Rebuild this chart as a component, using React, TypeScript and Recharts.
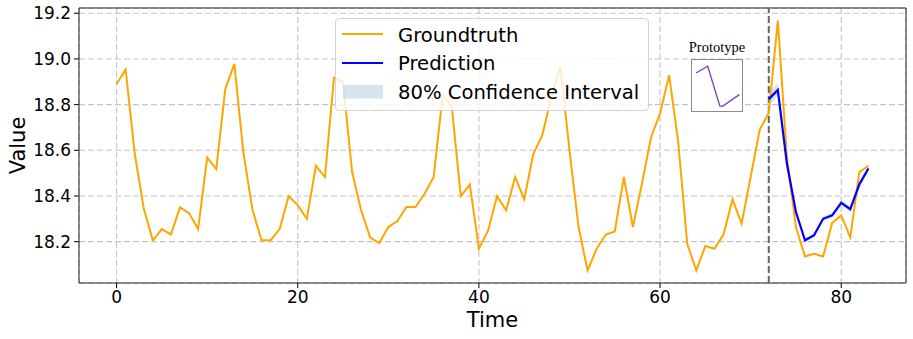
import React from 'react';
import {
  ComposedChart,
  LineChart,
  Line,
  Area,
  XAxis,
  YAxis,
  CartesianGrid,
  ReferenceLine,
  ReferenceArea,
} from 'recharts';

// ---- data ----
const groundtruth: number[] = [
  18.89, 18.954, 18.586, 18.345, 18.206, 18.255, 18.231, 18.35, 18.325, 18.255,
  18.568, 18.518, 18.868, 18.978, 18.589, 18.34, 18.206, 18.206, 18.255, 18.399,
  18.36, 18.3, 18.532, 18.483, 18.918, 18.9, 18.505, 18.337, 18.218, 18.194,
  18.264, 18.29, 18.352, 18.352, 18.41, 18.483, 18.842, 18.793, 18.399, 18.45,
  18.169, 18.247, 18.399, 18.337, 18.483, 18.385, 18.583, 18.666, 18.834, 18.966,
  18.6, 18.264, 18.074, 18.169, 18.231, 18.245, 18.483, 18.264, 18.454, 18.656,
  18.761, 18.929, 18.637, 18.191, 18.074, 18.181, 18.169, 18.231, 18.385, 18.279,
  18.483, 18.69, 18.764, 19.168, 18.571, 18.264, 18.135, 18.147, 18.135, 18.282,
  18.315, 18.218, 18.505, 18.532,
];

const predStart = 72;
const prediction: number[] = [
  18.824, 18.864, 18.542, 18.33, 18.206, 18.228, 18.3, 18.315, 18.37, 18.342, 18.451, 18.52,
];
const ciLower: number[] = [
  18.795, 18.838, 18.528, 18.32, 18.197, 18.219, 18.29, 18.305, 18.358, 18.331, 18.44, 18.51,
];
const ciUpper: number[] = [
  18.855, 18.892, 18.556, 18.341, 18.215, 18.237, 18.31, 18.325, 18.382, 18.353, 18.462, 18.531,
];

const xTicks: number[] = [0, 20, 40, 60, 80];
const yTicks: number[] = [18.2, 18.4, 18.6, 18.8, 19.0, 19.2];

// prototype inset shape
const protoX: number[] = [0, 2.7, 5.5, 6.1, 10];
const protoY: number[] = [0.39, 0.457, 0.06, 0.057, 0.174];

const tableData = groundtruth.map((g, i) => {
  const j = i - predStart;
  const has = j >= 0 && j < prediction.length;
  return {
    time: i,
    gt: g,
    pred: has ? prediction[j] : undefined,
    ci: has ? [ciLower[j], ciUpper[j]] : undefined,
  };
});
const protoData = protoX.map((x, i) => ({ x, y: protoY[i] }));

const FONT = 'DejaVu Sans';
const ORANGE = '#FFA500';
const BLUE = '#0000FF';
const BAND = '#a9cce4';

const X_DOMAIN: [number, number] = [-4.15, 87.15];
const Y_DOMAIN: [number, number] = [18.019, 19.223];

const ValueLabel = (props: any) => {
  const vb = props.viewBox || {};
  const cy = vb.y + vb.height / 2;
  const x = 25;
  return (
    <text
      x={x}
      y={cy}
      transform={`rotate(-90, ${x}, ${cy})`}
      textAnchor="middle"
      fontSize={21}
      fontFamily={FONT}
      fill="#000"
    >
      Value
    </text>
  );
};

export default function App() {
  return (
    <div style={{ position: 'absolute', left: 0, top: 0, width: 913, height: 339, background: '#fff' }}>
      <ComposedChart
        width={913}
        height={339}
        data={tableData}
        margin={{ top: 8, right: 7, bottom: 0, left: 19 }}
      >
        <CartesianGrid stroke="#c4c4c4" strokeWidth={1.1} strokeDasharray="6 3" />
        <XAxis
          dataKey="time"
          type="number"
          domain={X_DOMAIN}
          ticks={xTicks}
          allowDataOverflow
          height={56}
          tickSize={5}
          tickMargin={3}
          axisLine={false}
          tickLine={{ stroke: '#000' }}
          tick={{ fontSize: 17, fontFamily: FONT, fill: '#000' }}
          label={{ value: 'Time', position: 'insideBottom', offset: 12, fontSize: 21, fontFamily: FONT, fill: '#000' }}
        />
        <YAxis
          type="number"
          domain={Y_DOMAIN}
          ticks={yTicks}
          allowDataOverflow
          width={60}
          tickSize={5}
          tickMargin={3}
          axisLine={false}
          tickLine={{ stroke: '#000' }}
          tick={{ fontSize: 17, fontFamily: FONT, fill: '#000' }}
          tickFormatter={(v: number) => v.toFixed(1)}
          label={<ValueLabel />}
        />
        <ReferenceLine x={predStart} stroke="#666" strokeWidth={2} strokeDasharray="7 3" />
        <Line
          dataKey="gt"
          stroke={ORANGE}
          strokeWidth={2}
          dot={false}
          isAnimationActive={false}
        />
        <Area
          dataKey="ci"
          stroke="none"
          fill={BAND}
          fillOpacity={0.5}
          isAnimationActive={false}
          connectNulls={false}
        />
        <Line
          dataKey="pred"
          stroke={BLUE}
          strokeWidth={2.2}
          dot={false}
          isAnimationActive={false}
          connectNulls={false}
        />
        <ReferenceArea
          x1={X_DOMAIN[0]}
          x2={X_DOMAIN[1]}
          y1={Y_DOMAIN[0]}
          y2={Y_DOMAIN[1]}
          fill="none"
          fillOpacity={0}
          stroke="#222"
          strokeWidth={1}
        />
      </ComposedChart>

      {/* legend */}
      <div
        style={{
          position: 'absolute',
          left: 335,
          top: 18,
          width: 314,
          height: 93,
          boxSizing: 'border-box',
          border: '1px solid #d4d4d4',
          borderRadius: 4,
          background: 'rgba(255,255,255,0.8)',
        }}
      >
        <svg width={314} height={93} style={{ position: 'absolute', left: -1, top: -1 }}>
          <line x1={7} x2={48} y1={16} y2={16} stroke={ORANGE} strokeWidth={2} />
          <text x={63} y={23.5} fontSize={19.6} fontFamily={FONT} fill="#000">Groundtruth</text>
          <line x1={7} x2={48} y1={45} y2={45} stroke={BLUE} strokeWidth={2} />
          <text x={63} y={52.3} fontSize={19.6} fontFamily={FONT} fill="#000">Prediction</text>
          <rect x={8} y={67} width={40} height={13.5} fill={BAND} fillOpacity={0.5} />
          <text x={63} y={81} fontSize={19.6} fontFamily={FONT} fill="#000">80% Confidence Interval</text>
        </svg>
      </div>

      {/* prototype inset */}
      <div
        style={{
          position: 'absolute',
          left: 676,
          top: 39,
          width: 82,
          textAlign: 'center',
          fontFamily: 'Liberation Serif',
          fontSize: 14.5,
          lineHeight: '17px',
          color: '#000',
        }}
      >
        Prototype
      </div>
      <div
        style={{
          position: 'absolute',
          left: 691,
          top: 59,
          width: 52,
          height: 53,
          boxSizing: 'border-box',
          border: '1.3px solid #8c8c8c',
          background: '#fff',
        }}
      >
        <div style={{ position: 'absolute', left: -1.3, top: -1.3 }}>
          <LineChart width={52} height={53} data={protoData} margin={{ top: 0, right: 0, bottom: 0, left: 0 }}>
            <XAxis dataKey="x" type="number" domain={[-1.155, 10.85]} hide />
            <YAxis type="number" domain={[0, 0.53]} hide />
            <Line dataKey="y" stroke="#7d3cc0" strokeWidth={1.3} dot={false} isAnimationActive={false} />
          </LineChart>
        </div>
      </div>
    </div>
  );
}
